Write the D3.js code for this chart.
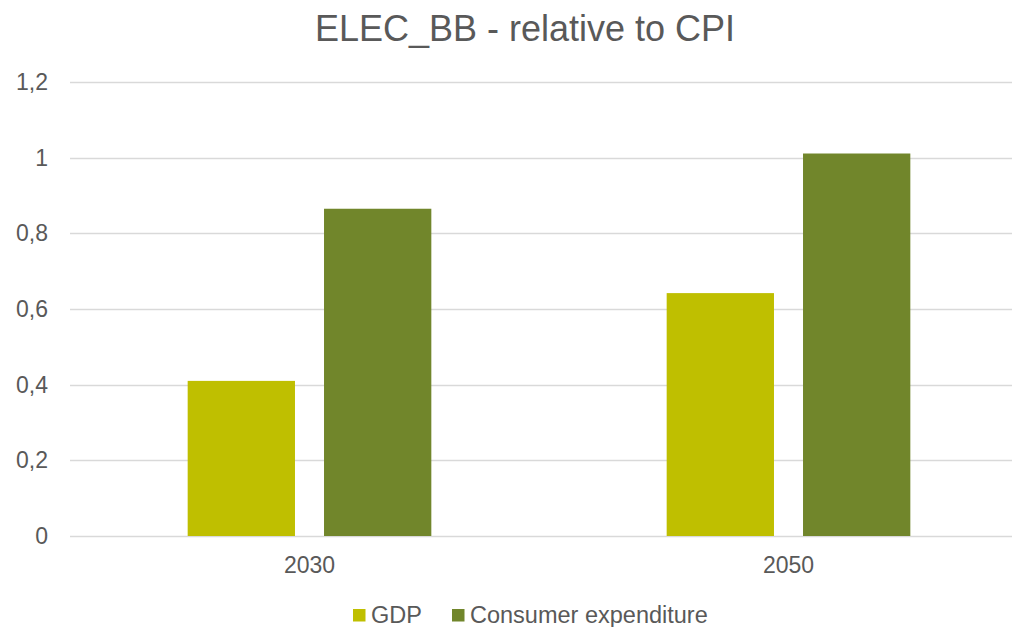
<!DOCTYPE html>
<html>
<head>
<meta charset="utf-8">
<script src="https://d3js.org/d3.v7.min.js"></script>
<style>
  body { margin: 0; background: #fff; }
  text { font-family: "Liberation Sans", Arial, sans-serif; fill: #595959; }
</style>
</head>
<body>
<div id="chart"></div>
<script>
var categories = ['2030', '2050'];
var seriesNames = ['GDP', 'Consumer expenditure'];
var gdpValues = [0.41, 0.642];
var consumerValues = [0.865, 1.011];
var yTicks = [0, 0.2, 0.4, 0.6, 0.8, 1, 1.2];
var colors = ['#bfbf00', '#71862b'];

var width = 1012, height = 627;
var margin = {top: 82, left: 70, bottom: 91};
var plotRight = 1028;

var svg = d3.select('#chart').append('svg')
    .attr('width', width)
    .attr('height', height);

var y = d3.scaleLinear()
    .domain([0, 1.2])
    .range([height - margin.bottom, margin.top]);

var x0 = d3.scaleBand()
    .domain(categories)
    .range([margin.left, plotRight])
    .paddingInner(0)
    .paddingOuter(0);

var x1 = d3.scaleBand()
    .domain(seriesNames)
    .range([0, x0.bandwidth()])
    .paddingInner(0.213)
    .paddingOuter(0.863);

var fmt = function(d) { return d3.format('~g')(d).replace('.', ','); };

// gridlines
svg.append('g').selectAll('line')
    .data(yTicks)
    .enter().append('line')
    .attr('x1', margin.left)
    .attr('x2', plotRight)
    .attr('y1', function(d) { return Math.round(y(d)) + 0.5; })
    .attr('y2', function(d) { return Math.round(y(d)) + 0.5; })
    .attr('stroke', '#d9d9d9')
    .attr('stroke-width', 1.3);

// y labels
svg.append('g').selectAll('text')
    .data(yTicks)
    .enter().append('text')
    .attr('x', 48)
    .attr('y', function(d) { return y(d) + 8; })
    .attr('text-anchor', 'end')
    .style('font-size', '23px')
    .text(fmt);

// bars
var rows = categories.map(function(c, i) {
    return {cat: c, vals: [gdpValues[i], consumerValues[i]]};
});

var groups = svg.append('g').selectAll('g')
    .data(rows)
    .enter().append('g')
    .attr('transform', function(d) { return 'translate(' + x0(d.cat) + ',0)'; });

groups.selectAll('rect')
    .data(function(d) {
        return d.vals.map(function(v, j) { return {name: seriesNames[j], value: v, idx: j}; });
    })
    .enter().append('rect')
    .attr('x', function(d) { return x1(d.name); })
    .attr('width', x1.bandwidth())
    .attr('y', function(d) { return y(d.value); })
    .attr('height', function(d) { return y(0) - y(d.value); })
    .attr('fill', function(d) { return colors[d.idx]; });

// x labels
svg.append('g').selectAll('text')
    .data(categories)
    .enter().append('text')
    .attr('x', function(d) { return x0(d) + x0.bandwidth() / 2; })
    .attr('y', 573)
    .attr('text-anchor', 'middle')
    .style('font-size', '23px')
    .text(function(d) { return d; });

// title
svg.append('text')
    .attr('x', 525)
    .attr('y', 41)
    .attr('text-anchor', 'middle')
    .style('font-size', '36px')
    .text('ELEC_BB - relative to CPI');

// legend
var legendX = [353, 452];
var legend = svg.append('g').selectAll('g')
    .data(seriesNames)
    .enter().append('g')
    .attr('transform', function(d, i) { return 'translate(' + legendX[i] + ',609)'; });

legend.append('rect')
    .attr('width', 12.5)
    .attr('height', 12.5)
    .attr('fill', function(d, i) { return colors[i]; });

legend.append('text')
    .attr('x', 18)
    .attr('y', 14)
    .style('font-size', '23.5px')
    .text(function(d) { return d; });
</script>
</body>
</html>
